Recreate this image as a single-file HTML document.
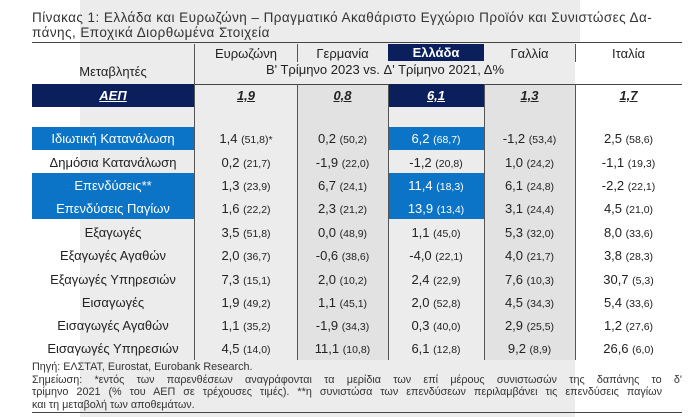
<!DOCTYPE html>
<html><head><meta charset="utf-8"><style>
body{margin:0;width:700px;height:417px;background:#fff;position:relative;overflow:hidden;font-family:"Liberation Sans","DejaVu Sans",sans-serif;color:#222}
div{position:absolute;box-sizing:border-box}
.t{font-size:13.5px;line-height:15px;left:32px;width:668px;top:10px;color:#333;white-space:nowrap;letter-spacing:0.45px}
.r{font-size:13px;text-align:center;white-space:nowrap}
.r small{font-size:10.5px}
.w{color:#fff}
.n{font-size:10.8px;line-height:12.5px;left:32px;width:650px;color:#333;white-space:nowrap}
.j{text-align:justify;text-align-last:justify}
</style></head><body>
<div style="left:80px;top:0;width:500px;height:417px;background:#ececec"></div>
<div class="t">Πίνακας 1: Ελλάδα και Ευρωζώνη – Πραγματικό Ακαθάριστο Εγχώριο Προϊόν και Συνιστώσες Δα-<br>πάνης, Εποχικά Διορθωμένα Στοιχεία</div>
<div style="left:297px;top:84px;width:91px;height:276px;background:#e2e2e2"></div>
<div style="left:484px;top:84px;width:91px;height:276px;background:#e2e2e2"></div>
<div style="left:575px;top:42px;width:10px;height:375px;background:#fff"></div>
<div style="left:32px;top:42px;width:650px;height:1px;background:#444"></div>
<div style="left:32px;top:84px;width:650px;height:1px;background:#444"></div>
<div style="left:32px;top:84px;width:162px;height:23px;background:#0b1f5c"></div>
<div style="left:388px;top:84px;width:96px;height:23px;background:#0b1f5c"></div>
<div style="left:388px;top:44px;width:96px;height:17px;background:#0b1f5c"></div>
<div style="left:32px;top:127px;width:162px;height:23px;background:#0c74c6"></div>
<div style="left:388px;top:127px;width:96px;height:23px;background:#0c74c6"></div>
<div style="left:32px;top:173px;width:162px;height:46px;background:#0c74c6"></div>
<div style="left:388px;top:173px;width:96px;height:46px;background:#0c74c6"></div>
<div style="left:194px;top:44px;width:1px;height:316px;background:#555"></div>
<div style="left:297px;top:44px;width:1px;height:18px;background:#555"></div>
<div style="left:297px;top:84px;width:1px;height:276px;background:#555"></div>
<div style="left:388px;top:84px;width:1px;height:276px;background:#555"></div>
<div style="left:484px;top:84px;width:1px;height:276px;background:#555"></div>
<div style="left:575px;top:44px;width:1px;height:18px;background:#555"></div>
<div style="left:575px;top:84px;width:1px;height:276px;background:#555"></div>
<div class="r" style="left:195px;width:102px;top:46px">Ευρωζώνη</div>
<div class="r" style="left:297px;width:91px;top:46px">Γερμανία</div>
<div class="r w" style="left:388px;width:96px;top:45px;font-weight:bold">Ελλάδα</div>
<div class="r" style="left:484px;width:91px;top:46px">Γαλλία</div>
<div class="r" style="left:575px;width:107px;top:46px">Ιταλία</div>
<div class="r" style="left:32px;width:162px;top:64px">Μεταβλητές</div>
<div class="r" style="left:195px;width:380px;top:62px">Β' Τρίμηνο 2023 vs. Δ' Τρίμηνο 2021, Δ%</div>
<div class="r w" style="left:32px;width:162px;top:88px;font-weight:bold;font-style:italic;text-decoration:underline">ΑΕΠ</div>
<div class="r" style="left:195px;width:102px;top:88px;font-weight:bold;font-style:italic;text-decoration:underline">1,9</div>
<div class="r" style="left:297px;width:91px;top:88px;font-weight:bold;font-style:italic;text-decoration:underline">0,8</div>
<div class="r w" style="left:388px;width:96px;top:88px;font-weight:bold;font-style:italic;text-decoration:underline">6,1</div>
<div class="r" style="left:484px;width:91px;top:88px;font-weight:bold;font-style:italic;text-decoration:underline">1,3</div>
<div class="r" style="left:575px;width:107px;top:88px;font-weight:bold;font-style:italic;text-decoration:underline">1,7</div>
<div id="rows"></div>
<script>
var R=[["Ιδιωτική Κατανάλωση",1,"1,4 <small>(51,8)*</small>","0,2 <small>(50,2)</small>","6,2 <small>(68,7)</small>","-1,2 <small>(53,4)</small>","2,5 <small>(58,6)</small>"],
["Δημόσια Κατανάλωση",0,"0,2 <small>(21,7)</small>","-1,9 <small>(22,0)</small>","-1,2 <small>(20,8)</small>","1,0 <small>(24,2)</small>","-1,1 <small>(19,3)</small>"],
["Επενδύσεις**",1,"1,3 <small>(23,9)</small>","6,7 <small>(24,1)</small>","11,4 <small>(18,3)</small>","6,1 <small>(24,8)</small>","-2,2 <small>(22,1)</small>"],
["Επενδύσεις Παγίων",1,"1,6 <small>(22,2)</small>","2,3 <small>(21,2)</small>","13,9 <small>(13,4)</small>","3,1 <small>(24,4)</small>","4,5 <small>(21,0)</small>"],
["Εξαγωγές",0,"3,5 <small>(51,8)</small>","0,0 <small>(48,9)</small>","1,1 <small>(45,0)</small>","5,3 <small>(32,0)</small>","8,0 <small>(33,6)</small>"],
["Εξαγωγές Αγαθών",0,"2,0 <small>(36,7)</small>","-0,6 <small>(38,6)</small>","-4,0 <small>(22,1)</small>","4,0 <small>(21,7)</small>","3,8 <small>(28,3)</small>"],
["Εξαγωγές Υπηρεσιών",0,"7,3 <small>(15,1)</small>","2,0 <small>(10,2)</small>","2,4 <small>(22,9)</small>","7,6 <small>(10,3)</small>","30,7 <small>(5,3)</small>"],
["Εισαγωγές",0,"1,9 <small>(49,2)</small>","1,1 <small>(45,1)</small>","2,0 <small>(52,8)</small>","4,5 <small>(34,3)</small>","5,4 <small>(33,6)</small>"],
["Εισαγωγές Αγαθών",0,"1,1 <small>(35,2)</small>","-1,9 <small>(34,3)</small>","0,3 <small>(40,0)</small>","2,9 <small>(25,5)</small>","1,2 <small>(27,6)</small>"],
["Εισαγωγές Υπηρεσιών",0,"4,5 <small>(14,0)</small>","11,1 <small>(10,8)</small>","6,1 <small>(12,8)</small>","9,2 <small>(8,9)</small>","26,6 <small>(6,0)</small>"]];
var X=[[32,162],[195,102],[297,91],[388,96],[484,91],[575,107]],h="",ys=[131,155,178,201,225,248,272,295,318,341];
R.forEach(function(r,i){var c=[r[0],r[2],r[3],r[4],r[5],r[6]];c.forEach(function(t,j){var w=(r[1]&&(j==0||j==3))?" w":"";h+='<div class="r'+w+'" style="left:'+X[j][0]+'px;width:'+X[j][1]+'px;top:'+ys[i]+'px">'+t+'</div>';});});
document.getElementById("rows").outerHTML=h;
</script>
<div class="n" style="top:361px">Πηγή: ΕΛΣΤΑΤ, Eurostat, Eurobank Research.</div>
<div class="n j" style="top:373.5px;width:650px">Σημείωση: *εντός των παρενθέσεων αναγράφονται τα μερίδια των επί μέρους συνιστωσών της δαπάνης το δ'</div>
<div class="n j" style="top:386px;width:630px">τρίμηνο 2021 (% του ΑΕΠ σε τρέχουσες τιμές). **η συνιστώσα των επενδύσεων περιλαμβάνει τις επενδύσεις παγίων</div>
<div class="n" style="top:398.5px">και τη μεταβολή των αποθεμάτων.</div>
<div style="left:32px;top:412px;width:650px;height:1px;background:#444"></div>
</body></html>
